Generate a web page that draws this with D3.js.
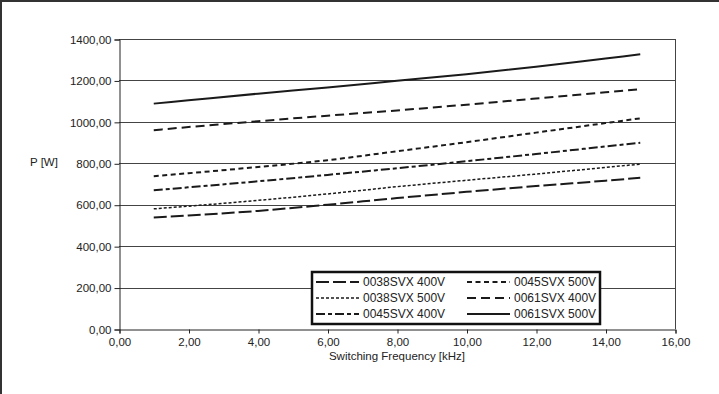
<!DOCTYPE html>
<html>
<head>
<meta charset="utf-8">
<script src="https://cdn.jsdelivr.net/npm/d3@7"></script>
<style>
  body { margin: 0; background: #fff; }
  svg text { font-family: "Liberation Sans", Arial, sans-serif; font-size: 11px; fill: #222; }
</style>
</head>
<body>
<svg class="chart" width="719" height="394"></svg>
<script>
// switching frequency in kHz
var freqs = [1, 2, 4, 6, 8, 10, 12, 14, 15]

var series = ['0038SVX 400V', '0038SVX 500V', '0045SVX 400V', '0045SVX 500V', '0061SVX 400V', '0061SVX 500V']

// P [W] per series
var p0038_400 = [538, 548, 570, 600, 632, 662, 690, 716, 730]
var p0038_500 = [580, 593, 621, 652, 687, 718, 748, 780, 796]
var p0045_400 = [670, 684, 713, 744, 776, 810, 845, 881, 899]
var p0045_500 = [738, 752, 782, 815, 858, 902, 948, 994, 1017]
var p0061_400 = [960, 975, 1003, 1030, 1055, 1083, 1113, 1143, 1158]
var p0061_500 = [1088, 1104, 1136, 1166, 1198, 1230, 1266, 1306, 1326]

var xTicks = [0, 2, 4, 6, 8, 10, 12, 14, 16]
var yTicks = [0, 200, 400, 600, 800, 1000, 1200, 1400]

var values = [p0038_400, p0038_500, p0045_400, p0045_500, p0061_400, p0061_500]
var dashes = ['13,4', '3,2', '9,3,4,3', '5,3.5', '9,5', null]
var widths = [2, 1.5, 2, 2, 2, 2]

const svg = d3.select('.chart')
const plotLeft = 119, plotRight = 675, plotTop = 39, plotBottom = 329

const xScale = d3.scaleLinear().domain([0, 16]).range([plotLeft, plotRight])
const yScale = d3.scaleLinear().domain([0, 1400]).range([plotBottom, plotTop])

// outer frame (only top and left visible)
svg.append('path')
  .attr('d', 'M1,394V1H719')
  .attr('fill', 'none')
  .attr('stroke', '#333')
  .attr('stroke-width', 2)

// grid
svg.append('g')
  .selectAll('line')
  .data(yTicks.slice(1))
  .enter()
  .append('line')
  .attr('x1', plotLeft)
  .attr('x2', plotRight)
  .attr('y1', d => Math.round(yScale(d)) + 0.5)
  .attr('y2', d => Math.round(yScale(d)) + 0.5)
  .attr('stroke', '#444')
  .attr('stroke-width', 1)

svg.append('line')
  .attr('x1', plotRight + 0.5).attr('x2', plotRight + 0.5)
  .attr('y1', plotTop).attr('y2', plotBottom)
  .attr('stroke', '#444')

const fmt = d => d3.format('.2f')(d).replace('.', ',')

// axes
const yAxis = svg.append('g')
  .attr('transform', `translate(${plotLeft + 0.5},0.5)`)
  .call(d3.axisLeft(yScale).tickValues(yTicks).tickFormat(fmt).tickSize(5).tickPadding(3))
const xAxis = svg.append('g')
  .attr('transform', `translate(0.5,${plotBottom + 0.5})`)
  .call(d3.axisBottom(xScale).tickValues(xTicks).tickFormat(fmt).tickSize(4).tickPadding(4))
;[yAxis, xAxis].forEach(function(a) {
  a.select('.domain').attr('stroke', '#222')
  a.selectAll('.tick line').attr('stroke', '#222')
  a.selectAll('text').style('font-family', '"Liberation Sans", Arial, sans-serif').style('font-size', '11.5px').attr('fill', '#222')
})

// lines
const line = d3.line()
  .x((d, i) => xScale(freqs[i]))
  .y(d => yScale(d))
  .curve(d3.curveMonotoneX)

svg.append('g')
  .selectAll('path')
  .data(values)
  .enter()
  .append('path')
  .attr('d', d => line(d))
  .attr('fill', 'none')
  .attr('stroke', '#1a1a1a')
  .attr('stroke-width', (d, i) => widths[i])
  .attr('stroke-dasharray', (d, i) => dashes[i])

// labels
svg.append('text')
  .attr('x', 30)
  .attr('y', 166)
  .style('font-size', '11.5px')
  .text('P [W]')

svg.append('text')
  .attr('x', 397)
  .attr('y', 360)
  .attr('text-anchor', 'middle')
  .style('font-size', '11.5px')
  .text('Switching Frequency [kHz]')

// legend
const legend = svg.append('g')
legend.append('rect')
  .attr('x', 312)
  .attr('y', 272)
  .attr('width', 288)
  .attr('height', 52)
  .attr('fill', '#fff')
  .attr('stroke', '#111')
  .attr('stroke-width', 2.5)

var order = [0, 3, 1, 4, 2, 5]
order.forEach(function(s, k) {
  var col = k % 2, row = Math.floor(k / 2)
  var x0 = col === 0 ? 316 : 467
  var y0 = 282 + row * 16
  legend.append('line')
    .attr('x1', x0).attr('x2', x0 + 43)
    .attr('y1', y0).attr('y2', y0)
    .attr('stroke', '#1a1a1a')
    .attr('stroke-width', widths[s])
    .attr('stroke-dasharray', dashes[s])
  legend.append('text')
    .attr('x', x0 + 47)
    .attr('y', y0 + 4)
    .style('font-size', '12px')
    .text(series[s])
})
</script>
</body>
</html>
